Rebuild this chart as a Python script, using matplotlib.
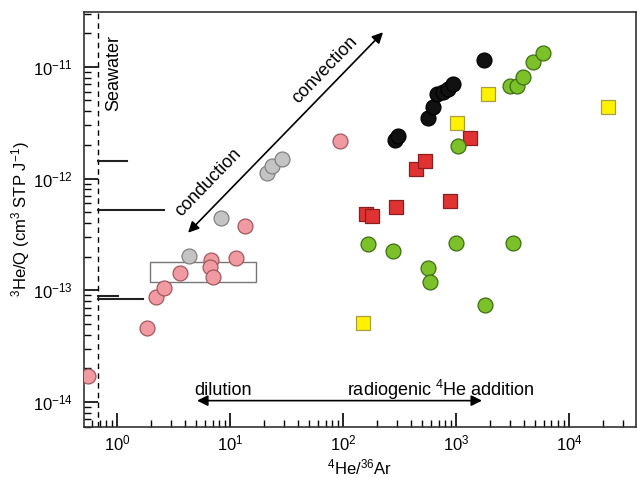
import matplotlib
matplotlib.use("Agg")
import matplotlib.pyplot as plt
from matplotlib.patches import Rectangle
from matplotlib.ticker import LogLocator, NullFormatter

plt.rcParams.update({
    "font.family": "sans-serif",
    "font.sans-serif": ["Liberation Sans", "DejaVu Sans"],
    "mathtext.default": "regular",
    "font.size": 12,
    "figure.facecolor": "white",
})

# 4He/36Ar vs 3He/Q, grouped by symbol
pink_x = [0.553, 1.84, 2.21, 2.61, 3.61, 6.79, 6.65, 7.08, 11.3, 13.6, 94.0]
pink_y = [1.71e-14, 4.6e-14, 8.7e-14, 1.05e-13, 1.43e-13, 1.87e-13, 1.62e-13,
          1.32e-13, 1.95e-13, 3.77e-13, 2.18e-12]

grey_x = [4.34, 8.32, 21.2, 23.5, 28.8]
grey_y = [2.03e-13, 4.45e-13, 1.12e-12, 1.30e-12, 1.50e-12]

black_x = [288, 307, 565, 626, 679, 767, 849, 940, 1770]
black_y = [2.22e-12, 2.41e-12, 3.49e-12, 4.38e-12, 5.73e-12, 5.97e-12,
           6.36e-12, 7.04e-12, 1.16e-11]

red_x = [160, 181, 294, 442, 532, 885, 1330]
red_y = [4.83e-13, 4.63e-13, 5.58e-13, 1.22e-12, 1.44e-12, 6.31e-13, 2.31e-12]

yellow_x = [150, 1020, 1920, 22100]
yellow_y = [5.1e-14, 3.15e-12, 5.73e-12, 4.38e-12]

green_x = [166, 277, 565, 589, 1000, 1043, 1805, 3010, 3470, 3920, 4800, 5890, 3190]
green_y = [2.60e-13, 2.25e-13, 1.59e-13, 1.19e-13, 2.66e-13, 1.96e-12, 7.4e-14,
           6.76e-12, 6.76e-12, 8.14e-12, 1.11e-11, 1.33e-11, 2.66e-13]

# seawater reference
seawater_x = 0.68
sw_levels = [1.44e-12, 5.2e-13, 8.4e-14, 8.9e-14]
sw_ends = [1.22, 2.61, 1.70, 1.02]

box_x = (1.96, 17.0)
box_y = (1.19e-13, 1.80e-13)

fig = plt.figure(figsize=(6.37, 4.78), dpi=100)
ax = fig.add_axes([0.132, 0.107, 0.866, 0.868])
ax.set_xscale("log")
ax.set_yscale("log")
ax.set_xlim(0.51, 39000)
ax.set_ylim(6.0e-15, 3.1e-11)

ax.axvline(seawater_x, color="black", lw=1.0, ls=(0, (4, 3)), zorder=1)
for lev, end in zip(sw_levels, sw_ends):
    ax.plot([seawater_x, end], [lev, lev], color="#222222", lw=1.5, zorder=1)

ax.add_patch(Rectangle((box_x[0], box_y[0]), box_x[1] - box_x[0], box_y[1] - box_y[0],
                       fill=False, edgecolor="#777777", lw=1.0, zorder=2))

ms = 115
ax.scatter(pink_x, pink_y, s=ms, c="#f29aa2", edgecolors="#a0585e", lw=0.9, zorder=3)
ax.scatter(grey_x, grey_y, s=ms, c="#c4c4c4", edgecolors="#808080", lw=0.9, zorder=3)
ax.scatter(black_x, black_y, s=ms, c="#111111", edgecolors="#000000", lw=0.9, zorder=3)
ax.scatter(red_x, red_y, s=ms, marker="s", c="#e03232", edgecolors="#8c1e1e", lw=0.9, zorder=3)
ax.scatter(yellow_x, yellow_y, s=ms, marker="s", c="#fff200", edgecolors="#a8a040", lw=0.9, zorder=3)
ax.scatter(green_x, green_y, s=ms, c="#7cc02a", edgecolors="#3f6e12", lw=0.9, zorder=4)

# process arrows
ax.annotate("", xy=(226, 2.04e-11), xytext=(4.25, 3.28e-13),
            arrowprops=dict(arrowstyle="<|-|>", color="black", lw=1.2,
                            mutation_scale=16, shrinkA=0, shrinkB=0))
ax.annotate("", xy=(1700, 1.03e-14), xytext=(5.1, 1.03e-14),
            arrowprops=dict(arrowstyle="<|-|>", color="black", lw=1.2,
                            mutation_scale=16, shrinkA=0, shrinkB=0))

ax.text(0.054, 0.853, "Seawater", transform=ax.transAxes, rotation=90,
        ha="center", va="center", fontsize=13)
ax.text(0.437, 0.860, "convection", transform=ax.transAxes, rotation=46,
        ha="center", va="center", fontsize=13)
ax.text(0.225, 0.588, "conduction", transform=ax.transAxes, rotation=46,
        ha="center", va="center", fontsize=13)
ax.text(0.252, 0.087, "dilution", transform=ax.transAxes,
        ha="center", va="center", fontsize=13)
ax.text(0.647, 0.089, "radiogenic $^{4}$He addition", transform=ax.transAxes,
        ha="center", va="center", fontsize=13)

ax.xaxis.set_major_locator(LogLocator(base=10, numticks=12))
ax.xaxis.set_minor_locator(LogLocator(base=10, subs=range(2, 10), numticks=12))
ax.yaxis.set_major_locator(LogLocator(base=10, numticks=12))
ax.yaxis.set_minor_locator(LogLocator(base=10, subs=range(2, 10), numticks=12))
ax.xaxis.set_minor_formatter(NullFormatter())
ax.yaxis.set_minor_formatter(NullFormatter())
ax.tick_params(which="major", direction="in", length=10, width=1.2, labelsize=12, pad=8)
ax.tick_params(axis="x", which="major", pad=5)
ax.tick_params(which="minor", direction="in", length=5, width=1.0)

for sp in ax.spines.values():
    sp.set_linewidth(1.2)
    sp.set_color("#333333")

ax.set_xlabel("$^{4}$He/$^{36}$Ar", fontsize=12)
ax.set_ylabel("$^{3}$He/Q (cm$^{3}$ STP J$^{-1}$)", fontsize=12)
ax.xaxis.set_label_coords(0.5, -0.075)
ax.yaxis.set_label_coords(-0.095, 0.5)

fig.savefig("out.png", dpi=100)
